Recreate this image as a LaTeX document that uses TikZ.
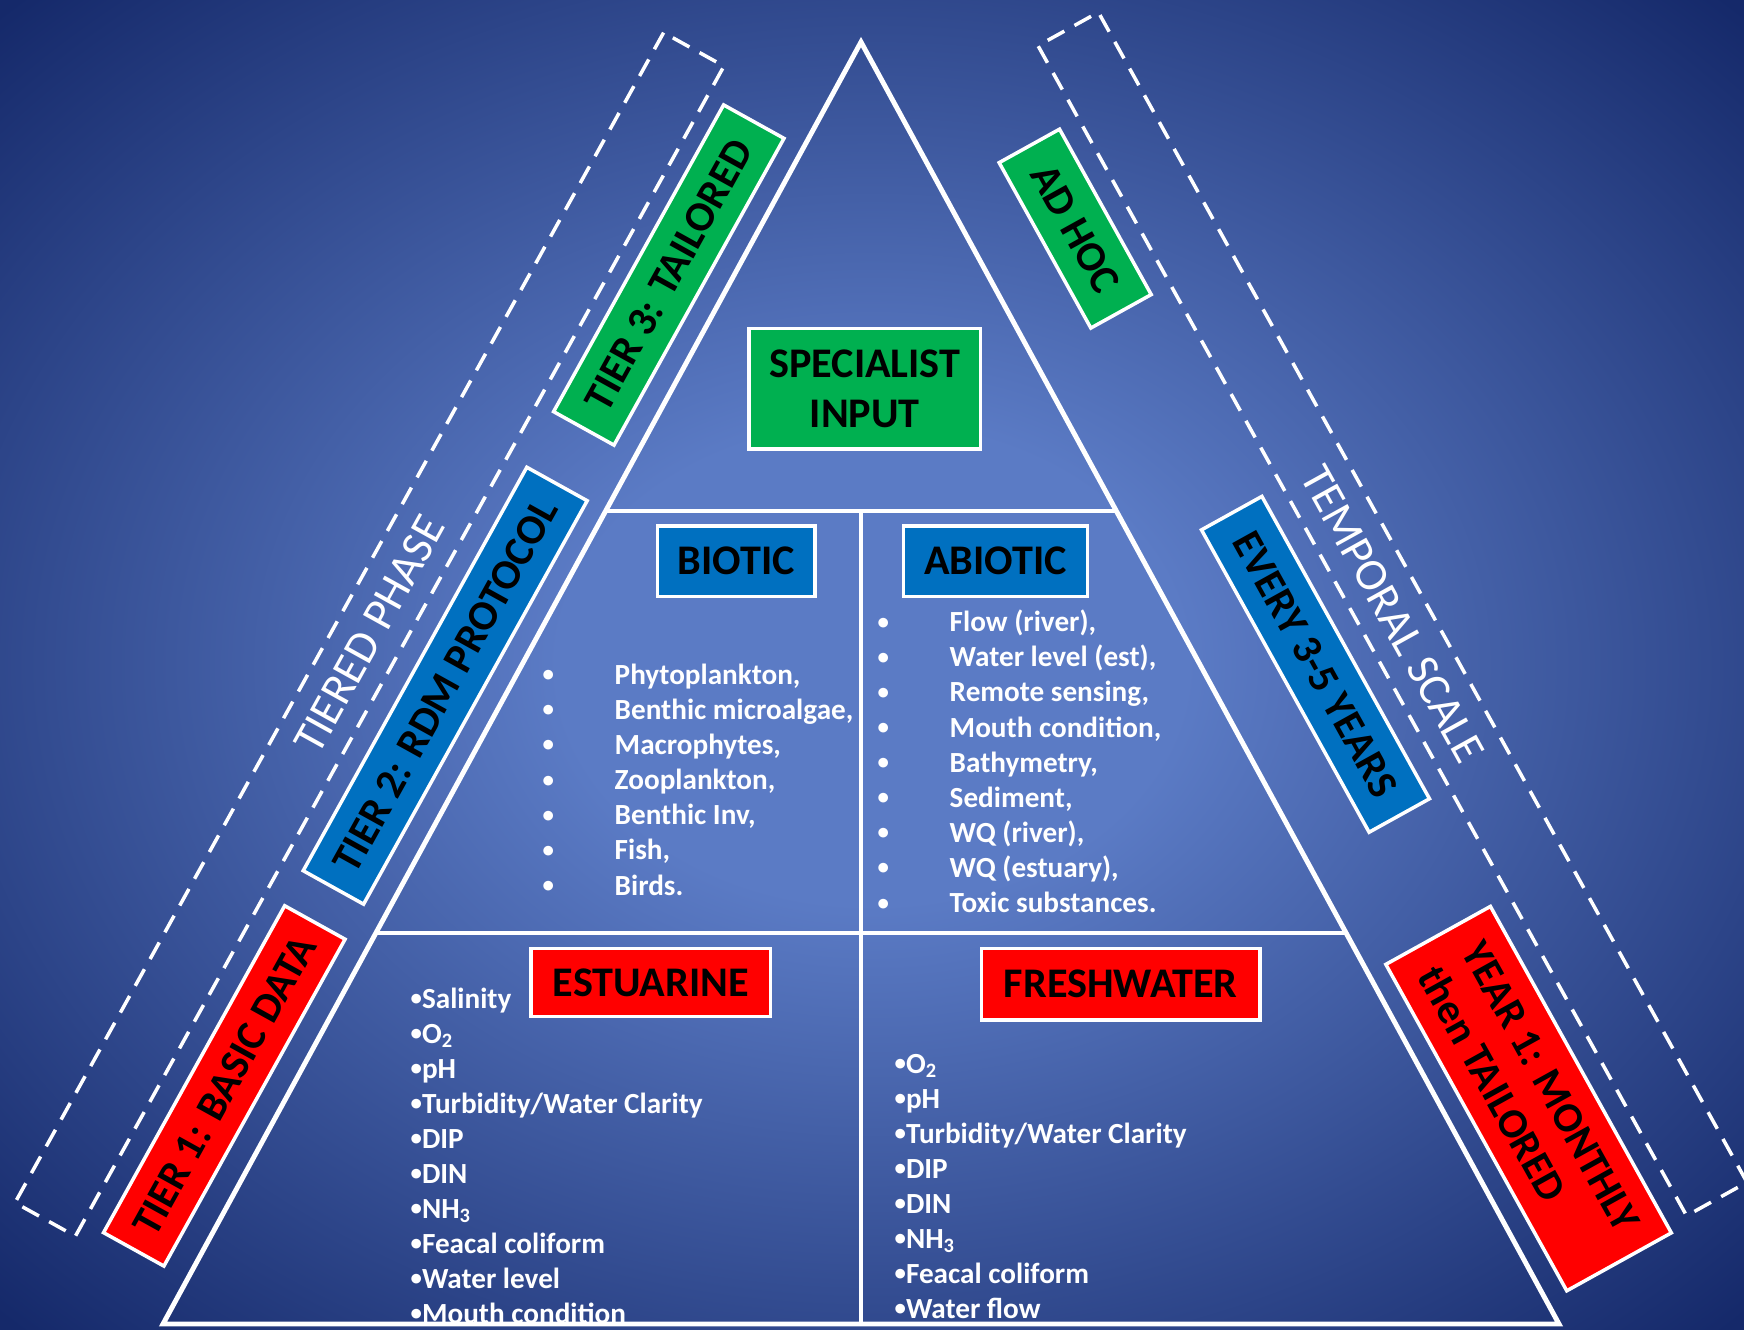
\documentclass[tikz,border=0pt]{standalone}
\usepackage{fontspec}
\setmainfont{Carlito}
\usepackage{graphicx}
\usepackage{tikz}
\usetikzlibrary{calc,positioning}

\definecolor{bgin}{HTML}{5B7BC5}
\definecolor{bgout}{HTML}{15296A}
\definecolor{tiergreen}{HTML}{00B050}
\definecolor{tierblue}{HTML}{0070C0}
\definecolor{tierred}{HTML}{FF0000}
\pgfdeclareradialshading{slidebg}{\pgfpoint{0bp}{0bp}}{color(0bp)=(bgin); color(9bp)=(bgin); color(35bp)=(bgout); color(50bp)=(bgout)}

\newcommand{\boxfont}{\fontsize{12}{14.2}\selectfont\bfseries}
\newcommand{\tierfont}{\fontsize{12}{14.4}\selectfont\bfseries}
\newcommand{\sidefont}{\fontsize{13}{15}\selectfont}
\newcommand{\bulletfont}{\fontsize{8.3}{10}\selectfont\bfseries}
\newcommand{\dotmark}{\raisebox{0.7pt}{\scalebox{0.78}{\textbullet}}}

\begin{document}
\begin{tikzpicture}[x=0.01cm, y=-0.01cm,
    label box/.style={draw=white, line width=1pt, text=black, font=\boxfont, inner sep=0pt, align=center},
    tier box/.style={draw=white, line width=1pt, text=black, font=\tierfont, inner sep=0pt, minimum height=0.69cm, align=left},
    phase box/.style={draw=white, line width=1pt, dash pattern=on 5.4pt off 3.3pt, text=white, font=\sidefont, inner sep=0pt, minimum width=13.37cm, minimum height=0.69cm},
    listitem/.style={anchor=base west, inner sep=0pt, text=white, font=\bulletfont},
    divider/.style={draw=white, line width=1pt}]

    % slide background
    \useasboundingbox (0,0) rectangle (1744,1329);
    \clip (0,0) rectangle (1744,1329);
    \shade[shading=slidebg] (0,0) rectangle (1744,1329);

    % dashed side bands
    \node[phase box, rotate=61] (tiered) at (369.5,634.4) {TIERED PHASE};
    \node[phase box, rotate=-61] (temporal) at (1392.5,614) {TEMPORAL SCALE};

    % tiers (left)
    \node[tier box, fill=tiergreen, rotate=61, minimum width=3.505cm] (tierthree) at (668.8,275) {TIER 3: TAILORED};
    \node[tier box, fill=tierblue, rotate=61, minimum width=4.61cm] (tiertwo) at (445.2,685.7) {TIER 2: RDM PROTOCOL};
    \node[tier box, fill=tierred, rotate=61, minimum width=3.735cm] (tierone) at (224.3,1085.9) {TIER 1: BASIC DATA};

    % time scale (right)
    \node[tier box, fill=tiergreen, rotate=-61, minimum width=1.89cm] (adhoc) at (1075.2,228.6) {AD HOC};
    \node[tier box, fill=tierblue, rotate=-61, minimum width=3.455cm] (everyyears) at (1315.5,664.3) {EVERY 3-5 YEARS};
    \node[tier box, fill=tierred, rotate=-61, minimum width=3.73cm, minimum height=1.195cm] (yearone) at (1528.6,1098.6) {YEAR 1: MONTHLY\\then TAILORED};

    % lists
    \foreach \txt [count=\i] in {{Phytoplankton,},{Benthic microalgae,},{Macrophytes,},{Zooplankton,},{Benthic Inv,},{Fish,},{Birds.}}
        \node[listitem] (bio\i) at (542,{684+35.17*(\i-1)}) {\makebox[0.72cm][l]{\dotmark}\txt};
    \foreach \txt [count=\i] in {{Flow (river),},{Water level (est),},{Remote sensing,},{Mouth condition,},{Bathymetry,},{Sediment,},{WQ (river),},{WQ (estuary),},{Toxic substances.}}
        \node[listitem] (abio\i) at (877,{631.7+35.1*(\i-1)}) {\makebox[0.72cm][l]{\dotmark}\txt};
    \foreach \txt [count=\i] in {{Salinity},{O\textsubscript{2}},{pH},{Turbidity/Water Clarity},{DIP},{DIN},{NH\textsubscript{3}},{Feacal coliform},{Water level},{Mouth condition}}
        \node[listitem] (est\i) at (410,{1008.3+35*(\i-1)}) {\dotmark\txt};
    \foreach \txt [count=\i] in {{O\textsubscript{2}},{pH},{Turbidity/Water Clarity},{DIP},{DIN},{NH\textsubscript{3}},{Feacal coliform},{Water flow}}
        \node[listitem] (fresh\i) at (894,{1073.3+35*(\i-1)}) {\dotmark\txt};

    % pyramid
    \coordinate (apex) at (861,42);
    \coordinate (baseL) at (163,1324);
    \coordinate (baseR) at (1559,1324);
    \coordinate (midL) at ($(apex)!0.3658!(baseL)$);
    \coordinate (midR) at ($(apex)!0.3658!(baseR)$);
    \coordinate (lowL) at ($(apex)!0.695!(baseL)$);
    \coordinate (lowR) at ($(apex)!0.695!(baseR)$);
    \draw[divider] (midL) -- (midR);
    \draw[divider] (lowL) -- (lowR);
    \draw[divider] (apex |- midL) -- (apex |- baseL);
    \draw[white, line width=1.4pt, line join=miter] (apex) -- (baseL) -- (baseR) -- cycle;

    % headings
    \node[label box, fill=tiergreen, minimum width=2.31cm, minimum height=1.2cm] (specialist) at (864.8,388.7) {SPECIALIST\\INPUT};
    \node[label box, fill=tierblue, minimum width=1.575cm, minimum height=0.705cm] (biotic) at (736.2,561) {BIOTIC};
    \node[label box, fill=tierblue, minimum width=1.84cm, minimum height=0.705cm] (abiotic) at (995.5,561) {ABIOTIC};
    \node[label box, fill=tierred, minimum width=2.395cm, minimum height=0.68cm] (estuarine) at (650.8,982.5) {ESTUARINE};
    \node[label box, fill=tierred, minimum width=2.78cm, minimum height=0.715cm] (freshwater) at (1120.8,984.2) {FRESHWATER};
\end{tikzpicture}
\end{document}
